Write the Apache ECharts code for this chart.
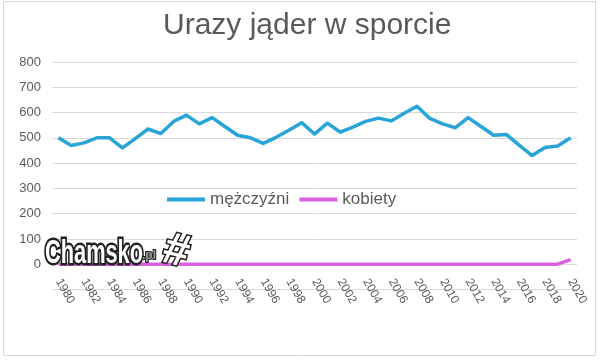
<!DOCTYPE html>
<html><head><meta charset="utf-8">
<script src="https://cdn.jsdelivr.net/npm/echarts@6/dist/echarts.min.js"></script>
<style>html,body{margin:0;padding:0;background:#fff}#c{width:600px;height:361px}</style>
</head><body><div id="c"></div>
<script>
const titleText = 'Urazy jąder w sporcie';
const years = [];
for (let y = 1980; y <= 2020; y++) years.push(String(y));
const seriesNames = ['mężczyźni', 'kobiety'];
const men = [500,470,480,500,500,460,497,535,517,565,590,555,580,545,510,500,478,502,530,560,515,558,523,542,565,578,567,597,625,577,555,540,580,545,510,513,470,430,462,468,500];
const women = [0,0,0,0,0,0,0,0,0,0,0,0,0,0,0,0,0,0,0,0,0,0,0,0,0,0,0,0,0,0,0,0,0,0,0,0,0,0,0,0,18];
const yTicks = [-100,0,100,200,300,400,500,600,700,800];

const chart = echarts.init(document.getElementById('c'), null, {renderer:'canvas'});
const FONT = 'Liberation Sans';
chart.setOption({
  animation: false,
  backgroundColor: '#fff',
  title: { text: titleText, left: 163, top: 11, padding: 0, textStyle: { fontFamily: FONT, fontSize: 30, fontWeight: 'normal', color: '#595959' } },
  legend: {
    data: seriesNames, left: 167, top: 191, padding: 0, icon: 'rect', itemWidth: 38, itemHeight: 4, itemGap: 10,
    textStyle: { fontFamily: FONT, fontSize: 17, color: '#595959' }
  },
  grid: { left: 52, right: 23, top: 62, bottom: 71.5, containLabel: false },
  xAxis: {
    type: 'category', data: years, boundaryGap: true,
    axisLine: { show: false, onZero: false },
    axisTick: { show: false },
    axisLabel: { interval: 1, rotate: -60, margin: -10, fontFamily: FONT, fontSize: 12, color: '#595959' }
  },
  yAxis: {
    type: 'value', min: yTicks[0], max: yTicks[yTicks.length-1], interval: 100,
    axisLine: { show: false }, axisTick: { show: false },
    axisLabel: { margin: 11, fontFamily: FONT, fontSize: 13, color: '#595959', formatter: v => v < 0 ? '' : String(v) },
    splitLine: { lineStyle: { color: '#d9d9d9', width: 1 } }
  },
  series: [
    { name: seriesNames[0], type: 'line', data: men, showSymbol: false, symbol: 'none', color: '#29a4d8', lineStyle: { width: 3.5, color: '#29a4d8', join: 'round' }, itemStyle: { color: '#29a4d8' }, z: 3 },
    { name: seriesNames[1], type: 'line', data: women, showSymbol: false, symbol: 'none', color: '#d862de', lineStyle: { width: 3.5, color: '#d862de', join: 'round' }, itemStyle: { color: '#d862de' }, z: 4 }
  ],
  graphic: [
    { type: 'rect', silent: true, shape: { x: 3.5, y: 1.5, width: 592, height: 354 }, style: { fill: 'none', stroke: '#d9d9d9', lineWidth: 1 }, z: 100 },
    { type: 'text', x: 45, y: 237, scaleX: 0.66, z: 101, style: { text: 'Chamsko', fontFamily: FONT, fontWeight: 'bold', fontSize: 33, fill: '#fff', stroke: '#222', lineWidth: 5 } },
    { type: 'text', x: 142, y: 250, z: 101, style: { text: '.pl', fontFamily: FONT, fontWeight: 'bold', fontSize: 12, fill: '#999', stroke: '#222', lineWidth: 2 } },
    { type: 'text', x: 176, y: 252, rotation: -0.25, z: 101, style: { text: '#', fontFamily: FONT, fontWeight: 'bold', fontSize: 46, fill: '#fff', stroke: '#222', lineWidth: 3, align: 'center', verticalAlign: 'middle' } }
  ]
});
</script></body></html>
